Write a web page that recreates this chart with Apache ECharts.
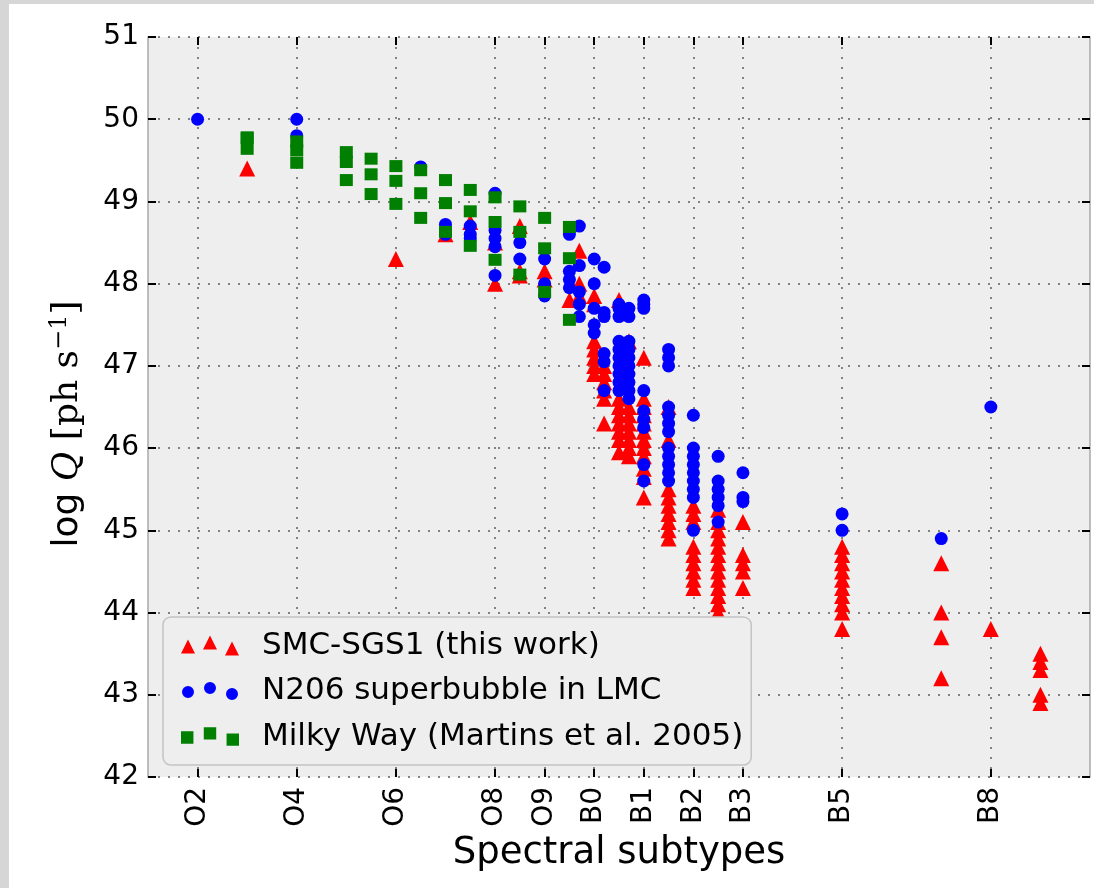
<!DOCTYPE html>
<html><head><meta charset="utf-8">
<script src="https://cdn.jsdelivr.net/npm/echarts@6/dist/echarts.min.js"></script>
<style>
html,body{margin:0;padding:0;background:#fff;width:1094px;height:888px;overflow:hidden;}
#frameL{position:absolute;left:0;top:0;width:9px;height:888px;background:#d6d6d6;}
#frameT{position:absolute;left:0;top:0;width:1094px;height:4px;background:#d6d6d6;}
#chart{position:absolute;left:0;top:0;width:1094px;height:888px;}
</style></head>
<body>
<div id="frameL"></div><div id="frameT"></div>
<div id="chart"></div>
<script>
// Spectral subtype positions (O2=2 ... O9=9, B0=10 ... B9=19)
const tickPositions = [2, 4, 6, 8, 9, 10, 11, 12, 13, 15, 18];
const tickLabels = ['O2', 'O4', 'O6', 'O8', 'O9', 'B0', 'B1', 'B2', 'B3', 'B5', 'B8'];
const yTicks = [42, 43, 44, 45, 46, 47, 48, 49, 50, 51];

// SMC-SGS1 (this work): [subtype, log Q]
const smcSGS1 = [
  [3, 49.4],
  [6, 48.3],
  [7, 48.6],
  [7.5, 48.75],
  [8, 48.5], [8, 48.0],
  [8.5, 48.7], [8.5, 48.15], [8.5, 48.1],
  [9, 48.15], [9, 48.05],
  [9.5, 47.8],
  [9.7, 48.4], [9.7, 48.0], [9.7, 47.85],
  [10, 47.85], [10, 47.75], [10, 47.3], [10, 47.2], [10, 47.1], [10, 47.0], [10, 46.9],
  [10.2, 47.0], [10.2, 46.9], [10.2, 46.8], [10.2, 46.7], [10.2, 46.6], [10.2, 46.3],
  [10.5, 47.8], [10.5, 46.6], [10.5, 46.5], [10.5, 46.4], [10.5, 46.3], [10.5, 46.2], [10.5, 46.1], [10.5, 45.95],
  [10.7, 47.3], [10.7, 46.5], [10.7, 46.4], [10.7, 46.3], [10.7, 46.2], [10.7, 46.1], [10.7, 46.0], [10.7, 45.9],
  [11, 47.1], [11, 46.6], [11, 46.5], [11, 46.4], [11, 46.3], [11, 46.2], [11, 46.1], [11, 46.0], [11, 45.9], [11, 45.75], [11, 45.65], [11, 45.4],
  [11.5, 46.5], [11.5, 46.1], [11.5, 45.5], [11.5, 45.4], [11.5, 45.3], [11.5, 45.2], [11.5, 45.1], [11.5, 45.0], [11.5, 44.9],
  [12, 45.3], [12, 45.2], [12, 45.1], [12, 44.8], [12, 44.7], [12, 44.6], [12, 44.5], [12, 44.4], [12, 44.3],
  [12.5, 45.25], [12.5, 45.1], [12.5, 45.0], [12.5, 44.9], [12.5, 44.8], [12.5, 44.7], [12.5, 44.6], [12.5, 44.5], [12.5, 44.4], [12.5, 44.3], [12.5, 44.2], [12.5, 44.1], [12.5, 44.0],
  [13, 45.1], [13, 44.7], [13, 44.6], [13, 44.5], [13, 44.3],
  [15, 44.8], [15, 44.7], [15, 44.6], [15, 44.5], [15, 44.4], [15, 44.3], [15, 44.2], [15, 44.1], [15, 44.0], [15, 43.8],
  [17, 44.6], [17, 44.0], [17, 43.7], [17, 43.2],
  [18, 43.8],
  [19, 43.5], [19, 43.4], [19, 43.3], [19, 43.0], [19, 42.9]
];

// N206 superbubble in LMC: [subtype, log Q]
const n206LMC = [
  [2, 50.0],
  [4, 50.0], [4, 49.8],
  [6.5, 49.42],
  [7, 48.72], [7, 48.6],
  [7.5, 48.7], [7.5, 48.6], [7.5, 48.55],
  [8, 49.1], [8, 48.65], [8, 48.55], [8, 48.45], [8, 48.1],
  [8.5, 48.5], [8.5, 48.3],
  [9, 48.3], [9, 48.0], [9, 47.85],
  [9.5, 48.6], [9.5, 48.15], [9.5, 48.05], [9.5, 47.95],
  [9.7, 48.7], [9.7, 48.22], [9.7, 47.9], [9.7, 47.75], [9.7, 47.6],
  [10, 48.3], [10, 48.0], [10, 47.7], [10, 47.5], [10, 47.4],
  [10.2, 48.2], [10.2, 47.65], [10.2, 47.6], [10.2, 47.15], [10.2, 47.05], [10.2, 46.7],
  [10.5, 47.75], [10.5, 47.7], [10.5, 47.6], [10.5, 47.3], [10.5, 47.2], [10.5, 47.1], [10.5, 47.0], [10.5, 46.9], [10.5, 46.8], [10.5, 46.7],
  [10.7, 47.7], [10.7, 47.6], [10.7, 47.3], [10.7, 47.2], [10.7, 47.1], [10.7, 47.0], [10.7, 46.9], [10.7, 46.8], [10.7, 46.7], [10.7, 46.6],
  [11, 47.8], [11, 47.75], [11, 47.7], [11, 46.7], [11, 46.45], [11, 46.35], [11, 46.25], [11, 45.8], [11, 45.6],
  [11.5, 47.2], [11.5, 47.1], [11.5, 47.0], [11.5, 46.5], [11.5, 46.4], [11.5, 46.3], [11.5, 46.2], [11.5, 46.0], [11.5, 45.9], [11.5, 45.8], [11.5, 45.7], [11.5, 45.6],
  [12, 46.4], [12, 46.0], [12, 45.9], [12, 45.8], [12, 45.7], [12, 45.6], [12, 45.5], [12, 45.4], [12, 45.0],
  [12.5, 45.9], [12.5, 45.6], [12.5, 45.5], [12.5, 45.4], [12.5, 45.3], [12.5, 45.1],
  [13, 45.7], [13, 45.4], [13, 45.35],
  [15, 45.2], [15, 45.0],
  [17, 44.9],
  [18, 46.5]
];

// Milky Way (Martins et al. 2005): [subtype, log Q]
const milkyWay = [
  [3, 49.78], [3, 49.77], [3, 49.64],
  [4, 49.73], [4, 49.62], [4, 49.47],
  [5, 49.60], [5, 49.48], [5, 49.26],
  [5.5, 49.52], [5.5, 49.33], [5.5, 49.09],
  [6, 49.43], [6, 49.25], [6, 48.97],
  [6.5, 49.38], [6.5, 49.10], [6.5, 48.80],
  [7, 49.26], [7, 48.98], [7, 48.63],
  [7.5, 49.14], [7.5, 48.88], [7.5, 48.46],
  [8, 49.05], [8, 48.75], [8, 48.29],
  [8.5, 48.94], [8.5, 48.63], [8.5, 48.11],
  [9, 48.80], [9, 48.43], [9, 47.90],
  [9.5, 48.69], [9.5, 48.31], [9.5, 47.56]
];

const seriesNames = ['SMC-SGS1 (this work)', 'N206 superbubble in LMC', 'Milky Way (Martins et al. 2005)'];

const labelMap = {};
tickPositions.forEach((p, i) => { labelMap[p] = tickLabels[i]; });

const iconTri = 'path://M0,18L7,4L14,18Z M22,14L29,0L36,14Z M44,20L51,6L58,20Z';
const iconCir = 'path://M1,11a6,6 0 1,0 12,0a6,6 0 1,0 -12,0Z M23,7a6,6 0 1,0 12,0a6,6 0 1,0 -12,0Z M45,13a6,6 0 1,0 12,0a6,6 0 1,0 -12,0Z M0,0Z M58,20Z';
const iconSq = 'path://M1,5h12v12h-12Z M23,1h12v12h-12Z M45,7h12v12h-12Z';

const FONT = 'DejaVu Sans';
const gridLine = { show: true, lineStyle: { color: '#5e5e5e', width: 1.5, type: [2, 8] } };

const chart = echarts.init(document.getElementById('chart'), null, { renderer: 'canvas' });
chart.setOption({
  animation: false,
  textStyle: { fontFamily: FONT },
  grid: { left: 148, top: 37, width: 942, height: 740, show: true, backgroundColor: '#eeeeee', borderWidth: 0 },
  legend: {
    orient: 'vertical', left: 163, top: 617,
    padding: [13, 8, 13, 18], itemGap: 14.5,
    itemWidth: 58, itemHeight: 20,
    backgroundColor: '#eeeeee', borderColor: '#c4c4c4', borderWidth: 1.5, borderRadius: 8,
    textStyle: { fontSize: 31, color: '#000', fontFamily: FONT, padding: [0, 0, 0, 18] },
    data: [
      { name: seriesNames[0], icon: iconTri },
      { name: seriesNames[1], icon: iconCir },
      { name: seriesNames[2], icon: iconSq }
    ]
  },
  xAxis: [
    {
      type: 'value', min: 1, max: 20, position: 'bottom',
      name: 'Spectral subtypes', nameLocation: 'middle', nameGap: 57,
      nameTextStyle: { fontSize: 37, color: '#000', fontFamily: FONT },
      axisLine: { show: false },
      axisTick: { show: true, inside: true, length: 8, lineStyle: { color: '#000', width: 2 }, customValues: tickPositions },
      axisLabel: { customValues: tickPositions, formatter: v => labelMap[v] || '', rotate: 90, fontSize: 28, color: '#000', margin: 10, fontFamily: FONT },
      splitLine: gridLine
    },
    {
      type: 'value', min: 1, max: 20, position: 'top',
      axisLine: { show: false },
      axisTick: { show: true, inside: true, length: 8, lineStyle: { color: '#000', width: 2 }, customValues: tickPositions },
      axisLabel: { show: false, customValues: tickPositions },
      splitLine: { show: false }
    }
  ],
  yAxis: [
    {
      type: 'value', min: 42, max: 51, interval: 1, position: 'left',
      name: '{a|log }{q|Q}{b| [ph s}{s|−1}{b|]}', nameLocation: 'middle', nameGap: 60, nameRotate: 90,
      nameTextStyle: {
        color: '#000',
        padding: [0, 34, 0, 0],
        rich: {
          a: { fontSize: 36, fontFamily: FONT, color: '#000' },
          q: { fontSize: 36, fontFamily: 'DejaVu Serif', fontStyle: 'italic', color: '#000' },
          b: { fontSize: 36, fontFamily: 'DejaVu Serif', color: '#000' },
          s: { fontSize: 24, fontFamily: 'DejaVu Serif', color: '#000', verticalAlign: 'top', padding: [0, 0, 16, 0] }
        }
      },
      axisLine: { show: true, lineStyle: { color: '#a8a8a8', width: 1.5 } },
      axisTick: { show: true, inside: true, length: 8, lineStyle: { color: '#000', width: 2 } },
      axisLabel: { fontSize: 28, color: '#000', margin: 9, fontFamily: FONT },
      splitLine: gridLine
    },
    {
      type: 'value', min: 42, max: 51, interval: 1, position: 'right',
      axisLine: { show: true, lineStyle: { color: '#a8a8a8', width: 1.5 } },
      axisTick: { show: true, inside: true, length: 8, lineStyle: { color: '#000', width: 2 } },
      axisLabel: { show: false },
      splitLine: { show: false }
    }
  ],
  series: [
    {
      name: seriesNames[0], type: 'scatter', xAxisIndex: 0, yAxisIndex: 0,
      symbol: 'triangle', symbolSize: 16,
      itemStyle: { color: '#ff0000', opacity: 1 },
      data: smcSGS1, z: 2
    },
    {
      name: seriesNames[1], type: 'scatter', xAxisIndex: 0, yAxisIndex: 0,
      symbol: 'circle', symbolSize: 13,
      itemStyle: { color: '#0000ff', opacity: 1 },
      data: n206LMC, z: 3
    },
    {
      name: seriesNames[2], type: 'scatter', xAxisIndex: 0, yAxisIndex: 0,
      symbol: 'rect', symbolSize: [13, 12],
      itemStyle: { color: '#007f00', opacity: 1 },
      data: milkyWay, z: 4
    }
  ]
});
</script>
</body></html>
